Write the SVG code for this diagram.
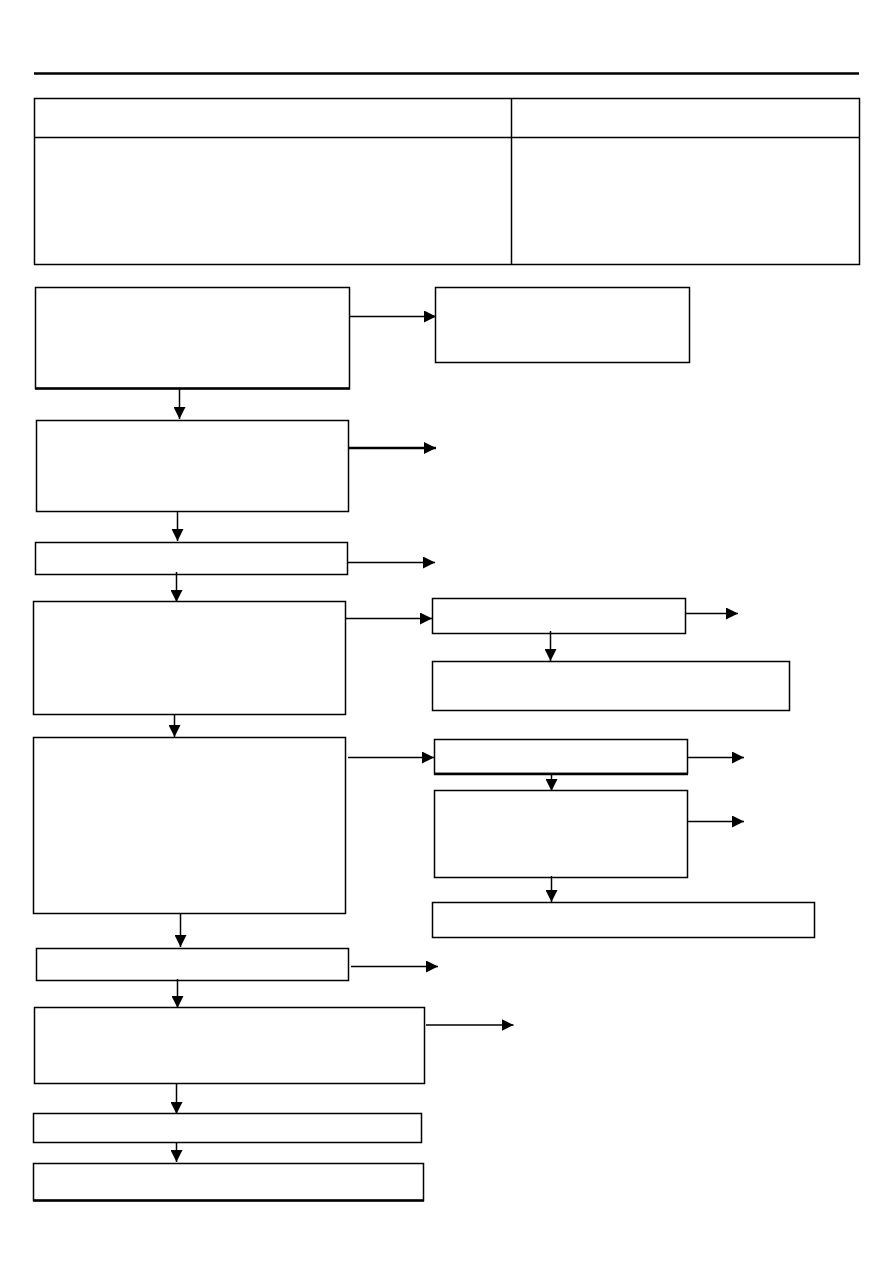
<svg xmlns="http://www.w3.org/2000/svg" width="893" height="1263" viewBox="0 0 893 1263">
<style>
.box{fill:#fff;stroke:#000;stroke-width:1.5}
.thick{stroke:#000;stroke-width:2.5}
.con{fill:none;stroke:#000;stroke-width:1.5;marker-end:url(#ah)}
</style>
<defs>
<marker id="ah" viewBox="0 0 12 12" refX="12" refY="6" markerWidth="12" markerHeight="12" markerUnits="userSpaceOnUse" orient="auto">
<path d="M0,0 L12,6 L0,12 z" fill="#000"/>
</marker>
</defs>
<rect width="893" height="1263" fill="#fff"/>
<line x1="34" y1="73.5" x2="859" y2="73.5" stroke="#000" stroke-width="2.5"/>
<g id="table">
<rect class="box" x="34.5" y="98.5" width="825" height="166"/>
<line x1="34.5" y1="137.5" x2="859.5" y2="137.5" stroke="#000" stroke-width="1.5"/>
<line x1="511.5" y1="98.5" x2="511.5" y2="264.5" stroke="#000" stroke-width="1.5"/>
</g>
<g id="n1"><rect class="box" x="35.5" y="287.5" width="314" height="101"/><line class="thick" x1="35" y1="388.5" x2="350" y2="388.5"/></g>
<g id="n1r"><rect class="box" x="435.5" y="287.5" width="254" height="75"/></g>
<g id="n2"><rect class="box" x="36.5" y="420.5" width="312" height="91"/></g>
<g id="n3"><rect class="box" x="35.5" y="542.5" width="312" height="32"/></g>
<g id="n4"><rect class="box" x="33.5" y="601.5" width="312" height="113"/></g>
<g id="n4r1"><rect class="box" x="432.5" y="598.5" width="253" height="35"/></g>
<g id="n4r2"><rect class="box" x="432.5" y="661.5" width="357" height="49"/></g>
<g id="n5"><rect class="box" x="33.5" y="737.5" width="312" height="176"/></g>
<g id="n5r1"><rect class="box" x="434.5" y="739.5" width="253" height="34"/><line class="thick" x1="434" y1="774" x2="688" y2="774"/></g>
<g id="n5r2"><rect class="box" x="434.5" y="790.5" width="253" height="87"/></g>
<g id="n5r3"><rect class="box" x="432.5" y="902.5" width="382" height="35"/></g>
<g id="n6"><rect class="box" x="36.5" y="948.5" width="312" height="32"/></g>
<g id="n7"><rect class="box" x="34.5" y="1007.5" width="390" height="76"/></g>
<g id="n8"><rect class="box" x="33.5" y="1113.5" width="388" height="29"/></g>
<g id="n9"><rect class="box" x="33.5" y="1163.5" width="390" height="37"/><line class="thick" x1="33" y1="1200.5" x2="424" y2="1200.5"/></g>
<g id="connectors">
<line class="con" x1="350" y1="316.5" x2="436" y2="316.5"/>
<line class="con" x1="179.5" y1="389" x2="179.5" y2="419"/>
<line class="con" x1="349" y1="448" x2="436" y2="448" style="stroke-width:2.5"/>
<line class="con" x1="177.5" y1="511.5" x2="177.5" y2="541"/>
<line class="con" x1="348" y1="562.5" x2="435" y2="562.5"/>
<line class="con" x1="176.5" y1="572" x2="176.5" y2="602"/>
<line class="con" x1="346" y1="618.5" x2="432" y2="618.5"/>
<line class="con" x1="686" y1="613.5" x2="738" y2="613.5"/>
<line class="con" x1="550.5" y1="631" x2="550.5" y2="661"/>
<line class="con" x1="174.5" y1="714.5" x2="174.5" y2="737"/>
<line class="con" x1="348" y1="757.5" x2="434" y2="757.5"/>
<line class="con" x1="688" y1="757.5" x2="744" y2="757.5"/>
<line class="con" x1="551.5" y1="775" x2="551.5" y2="791"/>
<line class="con" x1="688" y1="821.5" x2="744" y2="821.5"/>
<line class="con" x1="551.5" y1="876" x2="551.5" y2="902"/>
<line class="con" x1="180.5" y1="913.5" x2="180.5" y2="947"/>
<line class="con" x1="351" y1="966.5" x2="438" y2="966.5"/>
<line class="con" x1="177.5" y1="979" x2="177.5" y2="1008"/>
<line class="con" x1="426" y1="1025" x2="513.5" y2="1025"/>
<line class="con" x1="176.5" y1="1083.5" x2="176.5" y2="1114"/>
<line class="con" x1="176.5" y1="1142" x2="176.5" y2="1162"/>
</g>
</svg>
